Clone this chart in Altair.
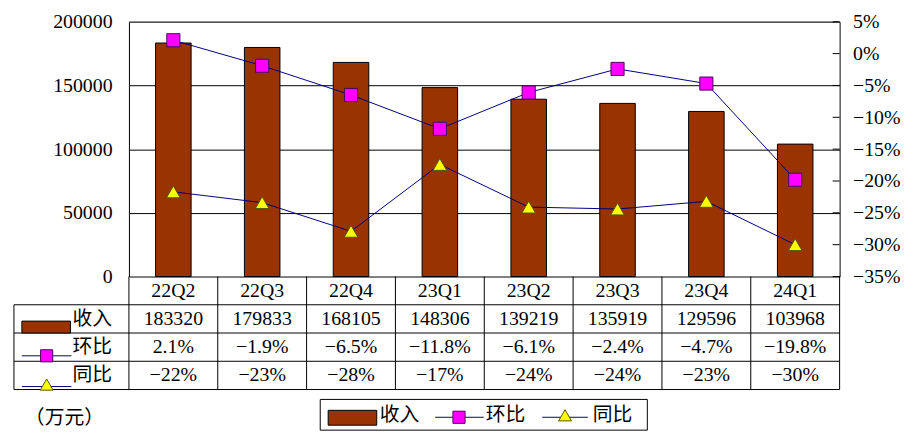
import altair as alt
import pandas as pd

# ---------------- data ----------------
categories = ["22Q2", "22Q3", "22Q4", "23Q1", "23Q2", "23Q3", "23Q4", "24Q1"]
revenue = [183320, 179833, 168105, 148306, 139219, 135919, 129596, 103968]
qoq_pct = [2.1, -1.9, -6.5, -11.8, -6.1, -2.4, -4.7, -19.8]
yoy_pct = [-21.7, -23.4, -27.9, -17.4, -24.1, -24.4, -23.2, -30.0]
revenue_labels = [str(v) for v in revenue]
qoq_labels = ["2.1%", "−1.9%", "−6.5%", "−11.8%", "−6.1%", "−2.4%", "−4.7%", "−19.8%"]
yoy_labels = ["−22%", "−23%", "−28%", "−17%", "−24%", "−24%", "−23%", "−30%"]
series_names = ["收入", "环比", "同比"]
unit_label = "（万元）"
left_ticks = [0, 50000, 100000, 150000, 200000]
right_ticks = [5, 0, -5, -10, -15, -20, -25, -30, -35]

# ---------------- style ----------------
FONT = "'Liberation Serif', 'Noto Sans CJK SC', serif"
FS = 20
BAR = "#993300"
LINE = "#000080"
MAG = "#FF00FF"
YEL = "#FFFF00"
W, H = 717, 405
PLOT_H = 257
ROW_H = 28.5
N = len(categories)
COLW = W / N
PAGE_X0, PAGE_Y_TABLE = 130, 277


def ux(page_x):
    return (page_x - PAGE_X0) / COLW


def uy(page_y):
    return (page_y - PAGE_Y_TABLE) / ROW_H


LBL_L = ux(14)

xs = alt.Scale(domain=[0, N], nice=False, zero=False)
ys = alt.Scale(domain=[0, 200000], range=[PLOT_H, 0], nice=False, zero=True)
yp = alt.Scale(domain=[-0.35, 0.05], range=[PLOT_H, 0], nice=False, zero=False)
yt = alt.Scale(domain=[0, 4], range=[PLOT_H, PLOT_H + 4 * ROW_H], nice=False, zero=False)


def X(f):
    return alt.X(f, type="quantitative", scale=xs, axis=None)


def YT(f):
    return alt.Y(f, type="quantitative", scale=yt, axis=None)


df = pd.DataFrame({
    "i": list(range(N)),
    "cat": categories,
    "rev": revenue,
    "qoq": [v / 100 for v in qoq_pct],
    "yoy": [v / 100 for v in yoy_pct],
})
base = alt.Chart(df).transform_calculate(
    x0="datum.i + 0.3", x1="datum.i + 0.7", xc="datum.i + 0.5", z="0"
)

# bars with left axis
bars = base.mark_rect(color=BAR, stroke="black", strokeWidth=1).encode(
    x=X("x0"), x2="x1:Q",
    y=alt.Y("rev:Q", scale=ys, axis=alt.Axis(
        values=left_ticks, format="d", grid=True, gridColor="black", gridOpacity=1,
        ticks=False, domainColor="black", labelFont=FONT, labelFontSize=FS,
        labelColor="black", labelPadding=17, title=None)),
    y2="z:Q",
)

top_df = pd.DataFrame({"y": [200000], "a": [0], "b": [N]})
top_line = alt.Chart(top_df).mark_rule(color="#808080", strokeWidth=1).encode(
    x=X("a"), x2="b:Q", y=alt.Y("y:Q", scale=ys, axis=None))

qoq_line = base.mark_line(color=LINE, strokeWidth=1).encode(
    x=X("xc"),
    y=alt.Y("qoq:Q", scale=yp, axis=alt.Axis(
        orient="right", values=[v / 100 for v in right_ticks], format=".0%",
        grid=False, ticks=False, domainColor="black", labelFont=FONT,
        labelFontSize=FS, labelColor="black", labelPadding=13, title=None)),
)
qoq_pts = base.mark_point(shape="square", filled=True, fill=MAG, stroke="#4B0060",
                          strokeWidth=1, size=175, opacity=1).encode(
    x=X("xc"), y=alt.Y("qoq:Q", scale=yp, axis=None))
yoy_line = base.mark_line(color=LINE, strokeWidth=1).encode(
    x=X("xc"), y=alt.Y("yoy:Q", scale=yp, axis=None))
yoy_pts = base.mark_point(shape="triangle-up", filled=True, fill=YEL, stroke="#555500",
                          strokeWidth=1, size=190, opacity=1).encode(
    x=X("xc"), y=alt.Y("yoy:Q", scale=yp, axis=None))

tick_df = pd.DataFrame({"v": [t / 100 for t in right_ticks]})
rticks = alt.Chart(tick_df).transform_calculate(
    a=f"{N} - {7 / COLW}", b=f"{N}"
).mark_rule(color="black", strokeWidth=1).encode(
    x=X("a"), x2="b:Q", y=alt.Y("v:Q", scale=yp, axis=None))

# ---------------- data table ----------------
segs = []
for r in range(1, 5):
    segs.append(dict(x=LBL_L, x2=N, y=r, y2=r))
for c in range(N + 1):
    segs.append(dict(x=c, x2=c, y=0, y2=4))
segs.append(dict(x=LBL_L, x2=LBL_L, y=1, y2=4))
seg_df = pd.DataFrame(segs)
table_rules = alt.Chart(seg_df).mark_rule(color="black", strokeWidth=1).encode(
    x=X("x"), x2="x2:Q", y=YT("y"), y2="y2:Q")

cells = []
for i, c in enumerate(categories):
    cells.append(dict(x=i + 0.5, y=0.5, t=c))
    cells.append(dict(x=i + 0.5, y=1.5, t=revenue_labels[i]))
    cells.append(dict(x=i + 0.5, y=2.5, t=qoq_labels[i]))
    cells.append(dict(x=i + 0.5, y=3.5, t=yoy_labels[i]))
cell_df = pd.DataFrame(cells)
table_text = alt.Chart(cell_df).mark_text(
    font=FONT, fontSize=FS, color="black", align="center", baseline="middle"
).encode(x=X("x"), y=YT("y"), text="t:N")

# row labels, legend box, unit text (left aligned text)
ltxt = []
for k, name in enumerate(series_names):
    ltxt.append(dict(x=ux(73), y=1.5 + k, t=name))
ltxt.append(dict(x=ux(383), y=uy(417), t=series_names[0]))
ltxt.append(dict(x=ux(490), y=uy(417), t=series_names[1]))
ltxt.append(dict(x=ux(598), y=uy(417), t=series_names[2]))
ltxt.append(dict(x=ux(25), y=uy(420), t=unit_label))
left_text = alt.Chart(pd.DataFrame(ltxt)).mark_text(
    font=FONT, fontSize=FS, color="black", align="left", baseline="middle"
).encode(x=X("x"), y=YT("y"), text="t:N")

legend_box = alt.Chart(pd.DataFrame([dict(x=ux(323), x2=ux(653), y=uy(401), y2=uy(432))])).mark_rect(
    fill="white", stroke="black", strokeWidth=1).encode(
    x=X("x"), x2="x2:Q", y=YT("y"), y2="y2:Q")

glyph_rects = alt.Chart(pd.DataFrame([
    dict(x=ux(22), x2=ux(71), y=uy(322), y2=uy(334)),
    dict(x=ux(331), x2=ux(380), y=uy(412), y2=uy(427)),
])).mark_rect(fill=BAR, stroke="black", strokeWidth=1).encode(
    x=X("x"), x2="x2:Q", y=YT("y"), y2="y2:Q")

glyph_lines = alt.Chart(pd.DataFrame([
    dict(x=ux(22), x2=ux(72), y=uy(357)),
    dict(x=ux(22), x2=ux(72), y=uy(388)),
    dict(x=ux(439), x2=ux(488), y=uy(419)),
    dict(x=ux(547), x2=ux(593), y=uy(419)),
])).mark_rule(color=LINE, strokeWidth=1).encode(x=X("x"), x2="x2:Q", y=YT("y"))

glyph_sq = alt.Chart(pd.DataFrame([
    dict(x=ux(47), y=uy(357)), dict(x=ux(463), y=uy(419)),
])).mark_point(shape="square", filled=True, fill=MAG, stroke="#4B0060",
               strokeWidth=1, size=150, opacity=1).encode(x=X("x"), y=YT("y"))

glyph_tri = alt.Chart(pd.DataFrame([
    dict(x=ux(47), y=uy(386)), dict(x=ux(570), y=uy(417)),
])).mark_point(shape="triangle-up", filled=True, fill=YEL, stroke="#555500",
               strokeWidth=1, size=170, opacity=1).encode(x=X("x"), y=YT("y"))

chart = alt.layer(
    bars, top_line, qoq_line, yoy_line, qoq_pts, yoy_pts, rticks,
    table_rules, table_text, legend_box, glyph_rects, glyph_lines,
    glyph_sq, glyph_tri, left_text,
).resolve_scale(y="independent").properties(
    width=W, height=H,
    autosize=alt.AutoSizeParams(type="none"),
    padding={"left": 122, "top": 12, "right": 70, "bottom": 12},
    background="white",
).configure_view(stroke=None)

chart.save("out.html", embed_options={"renderer": "svg", "actions": False})
